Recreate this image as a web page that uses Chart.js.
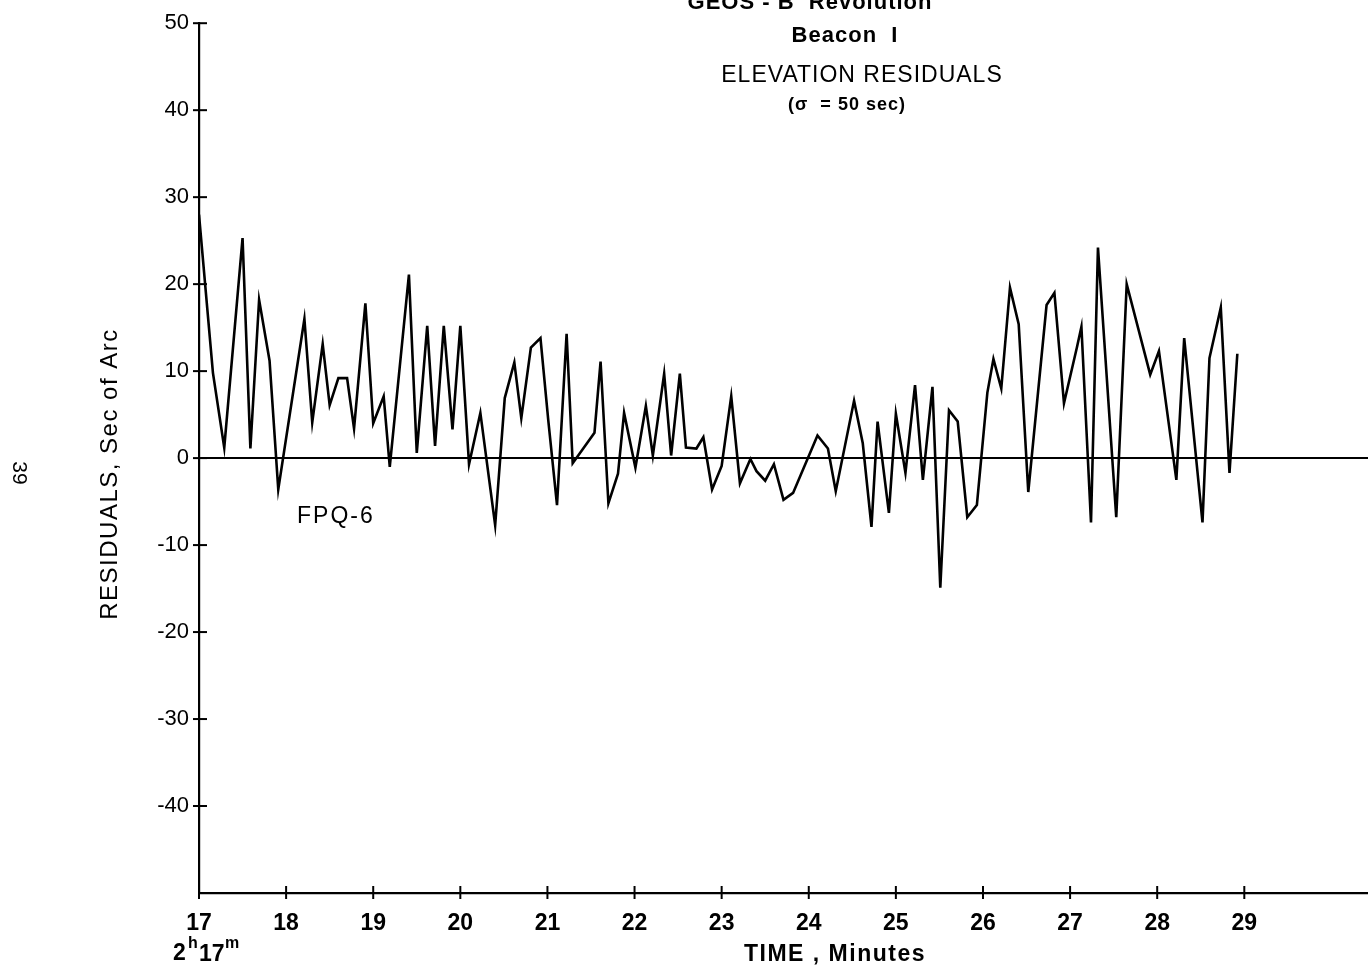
<!DOCTYPE html>
<html>
<head>
<meta charset="utf-8">
<script src="https://cdn.jsdelivr.net/npm/chart.js@4"></script>
<style>
  html, body { margin: 0; padding: 0; background: #fff; }
  canvas { display: block; }
</style>
</head>
<body>
<canvas id="chart" width="1368" height="970"></canvas>
<script>
// time in minutes after 2h, residuals in sec of arc
const times = [
  17.00, 17.16, 17.29, 17.50, 17.59, 17.69, 17.81, 17.91, 18.21, 18.30,
  18.42, 18.50, 18.60, 18.70, 18.78, 18.91, 19.00, 19.12, 19.19, 19.41,
  19.50, 19.62, 19.71, 19.81, 19.91, 20.00, 20.10, 20.23, 20.40, 20.51,
  20.62, 20.70, 20.81, 20.92, 21.01, 21.11, 21.22, 21.29, 21.54, 21.61,
  21.70, 21.81, 21.88, 22.01, 22.13, 22.21, 22.34, 22.42, 22.52, 22.59,
  22.71, 22.79, 22.89, 23.00, 23.11, 23.21, 23.33, 23.40, 23.50, 23.60,
  23.71, 23.82, 24.10, 24.22, 24.31, 24.52, 24.62, 24.72, 24.79, 24.92,
  25.00, 25.11, 25.22, 25.31, 25.42, 25.51, 25.61, 25.71, 25.82, 25.93,
  26.05, 26.12, 26.21, 26.31, 26.41, 26.52, 26.73, 26.82, 26.93, 27.08,
  27.13, 27.24, 27.32, 27.53, 27.65, 27.92, 28.02, 28.22, 28.31, 28.52,
  28.60, 28.73, 28.83, 28.92
];
const residuals = [
  28.0, 9.8, 1.2, 25.3, 1.1, 18.2, 11.2, -3.6, 16.0, 4.1,
  13.1, 6.1, 9.2, 9.2, 3.4, 17.8, 4.0, 7.1, -1.0, 21.1,
  0.6, 15.2, 1.4, 15.2, 3.3, 15.2, -0.7, 5.2, -7.7, 6.9,
  11.0, 4.6, 12.7, 13.8, 4.3, -5.4, 14.3, -0.6, 2.9, 11.1,
  -5.2, -1.8, 5.2, -1.1, 6.0, 0.3, 9.7, 0.3, 9.7, 1.2,
  1.1, 2.4, -3.6, -0.9, 7.1, -2.9, -0.1, -1.5, -2.6, -0.7,
  -4.8, -4.0, 2.6, 1.1, -3.8, 6.6, 1.7, -7.9, 4.2, -6.3,
  5.1, -1.7, 8.4, -2.5, 8.2, -14.9, 5.5, 4.2, -6.8, -5.4,
  7.5, 11.4, 8.0, 19.6, 15.4, -3.9, 17.6, 19.0, 6.3, 12.8,
  15.1, -7.4, 24.2, -6.8, 20.0, 9.6, 12.3, -2.5, 13.8, -7.4,
  11.5, 17.3, -1.7, 12.0
];
const xTicks = [17, 18, 19, 20, 21, 22, 23, 24, 25, 26, 27, 28, 29];
const yTicks = [50, 40, 30, 20, 10, 0, -10, -20, -30, -40];

const FONT = "'Liberation Sans', Arial, sans-serif";
const points = times.map((t, i) => ({ x: t, y: residuals[i] }));

// small tick marks crossing the axes, and the lettering around the plot
const extras = {
  id: 'extras',
  afterDraw(chart) {
    const ctx = chart.ctx;
    const xs = chart.scales.x, ys = chart.scales.y;
    const area = chart.chartArea;
    ctx.save();
    ctx.strokeStyle = '#000';
    ctx.lineWidth = 2;
    yTicks.forEach(v => {
      const py = ys.getPixelForValue(v);
      ctx.beginPath();
      ctx.moveTo(area.left - 6, py);
      ctx.lineTo(area.left + 8, py);
      ctx.stroke();
    });
    xTicks.forEach(v => {
      const px = xs.getPixelForValue(v);
      ctx.beginPath();
      ctx.moveTo(px, area.bottom - 7);
      ctx.lineTo(px, area.bottom + 6);
      ctx.stroke();
    });

    ctx.fillStyle = '#000';
    ctx.textBaseline = 'alphabetic';
    ctx.textAlign = 'center';
    ctx.letterSpacing = '1px';

    ctx.font = 'bold 22px ' + FONT;
    ctx.fillText('GEOS - B  Revolution', 810, 9);
    ctx.fillText('Beacon  I', 845, 42);
    ctx.font = '23px ' + FONT;
    ctx.fillText('ELEVATION RESIDUALS', 862, 82);
    ctx.font = 'bold 18px ' + FONT;
    ctx.fillText('(\u03c3  = 50 sec)', 847, 110);

    ctx.font = 'bold 23px ' + FONT;
    ctx.letterSpacing = '1.5px';
    ctx.fillText('TIME , Minutes', 835, 961);

    ctx.textAlign = 'left';
    ctx.font = '23px ' + FONT;
    ctx.letterSpacing = '2px';
    ctx.fillText('FPQ-6', 297, 523);

    // 2h17m under the first tick
    ctx.letterSpacing = '0px';
    ctx.font = 'bold 23px ' + FONT;
    ctx.fillText('2', 173, 960);
    ctx.font = 'bold 16px ' + FONT;
    ctx.fillText('h', 188, 948);
    ctx.font = 'bold 23px ' + FONT;
    ctx.fillText('17', 199, 961);
    ctx.font = 'bold 16px ' + FONT;
    ctx.fillText('m', 225, 948);

    // rotated axis title
    ctx.save();
    ctx.translate(117, 474);
    ctx.rotate(-Math.PI / 2);
    ctx.textAlign = 'center';
    ctx.font = '24px ' + FONT;
    ctx.letterSpacing = '1.5px';
    ctx.fillText('RESIDUALS, Sec of Arc', 0, 0);
    ctx.restore();

    // page number, printed sideways
    ctx.save();
    ctx.translate(13, 473);
    ctx.rotate(Math.PI / 2);
    ctx.textAlign = 'center';
    ctx.font = '21px ' + FONT;
    ctx.fillText('39', 0, 0);
    ctx.restore();

    ctx.restore();
  }
};

new Chart(document.getElementById('chart'), {
  type: 'line',
  data: {
    datasets: [{
      data: points,
      borderColor: '#000',
      borderWidth: 2.6,
      pointRadius: 0,
      tension: 0,
      fill: false
    }]
  },
  options: {
    responsive: false,
    devicePixelRatio: 1,
    animation: false,
    layout: { padding: { top: 22, right: 0, left: 0, bottom: 0 } },
    plugins: { legend: { display: false }, tooltip: { enabled: false } },
    scales: {
      x: {
        type: 'linear',
        min: 17,
        max: 30.42,
        afterBuildTicks: s => { s.ticks = xTicks.map(v => ({ value: v })); },
        afterFit: s => { s.height = 77; },
        grid: { display: false, drawTicks: false },
        border: { display: true, color: '#000', width: 2.2 },
        ticks: {
          color: '#000',
          padding: 17,
          maxRotation: 0,
          font: { family: FONT, size: 23, weight: 'bold' },
          callback: v => String(v)
        }
      },
      y: {
        min: -50,
        max: 50,
        afterBuildTicks: s => { s.ticks = yTicks.map(v => ({ value: v })); },
        afterFit: s => { s.width = 199; },
        grid: {
          drawTicks: false,
          color: c => (c.tick && c.tick.value === 0 ? '#000' : 'rgba(0,0,0,0)'),
          lineWidth: 2
        },
        border: { display: true, color: '#000', width: 2.2 },
        ticks: {
          color: '#000',
          padding: 10,
          font: { family: FONT, size: 22 },
          callback: v => String(v)
        }
      }
    }
  },
  plugins: [extras]
});
</script>
</body>
</html>
